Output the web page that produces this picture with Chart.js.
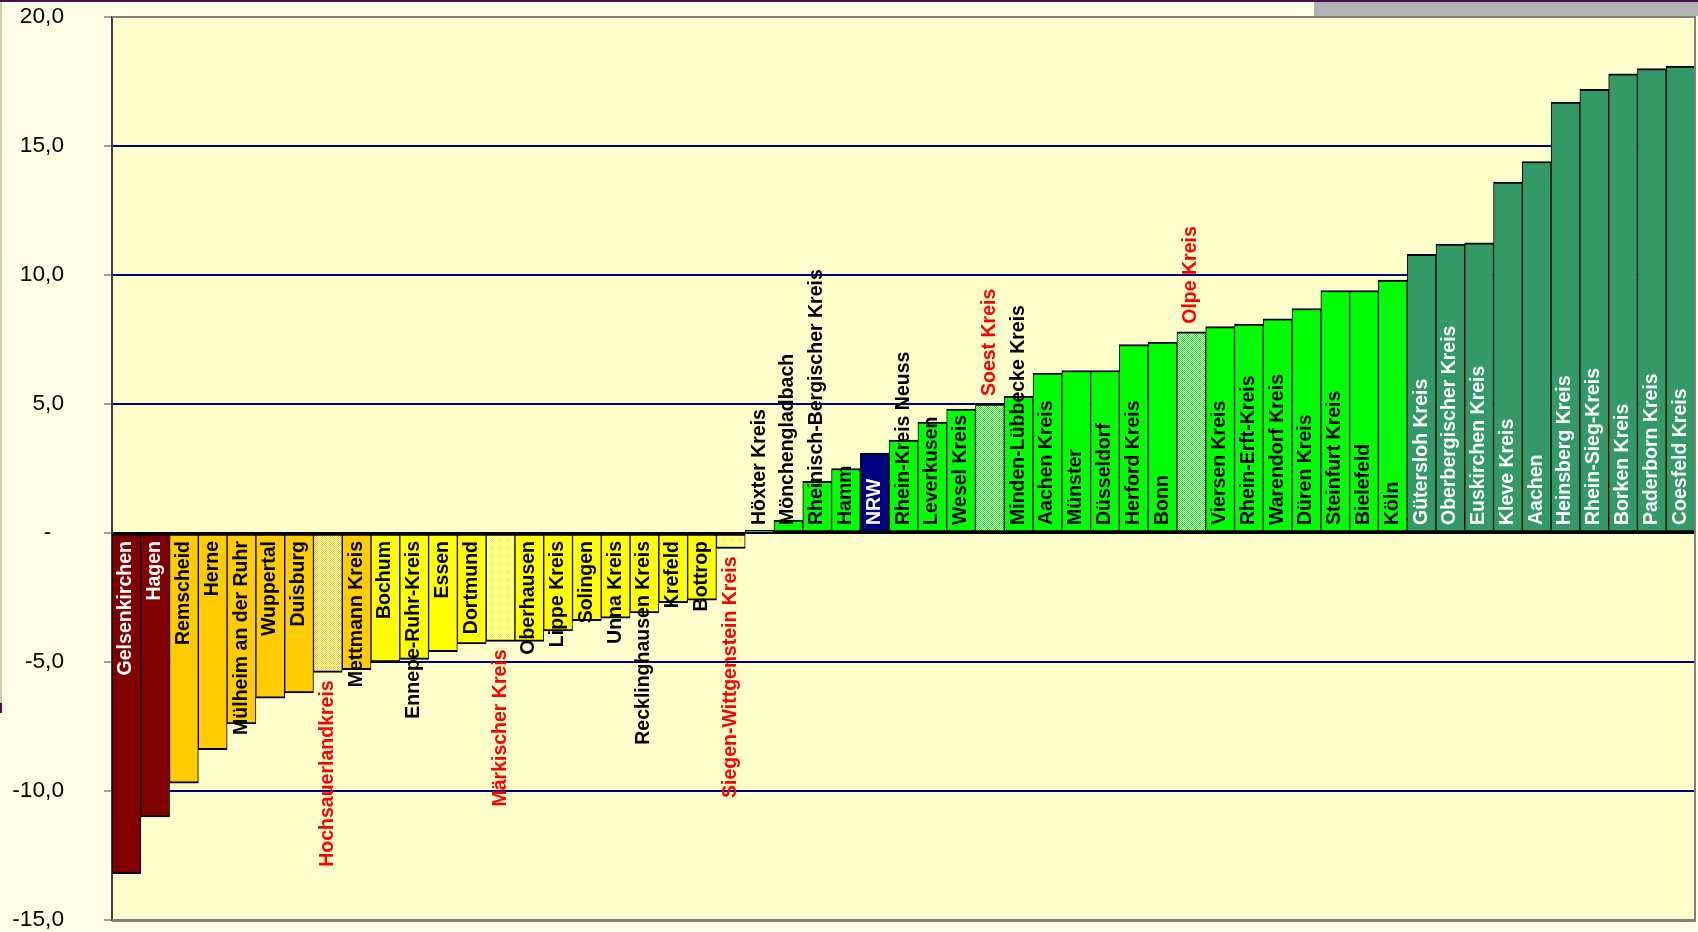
<!DOCTYPE html>
<html lang="de">
<head>
<meta charset="utf-8">
<title>Veränderung nach Kreisen und kreisfreien Städten – NRW</title>
<script src="https://cdn.jsdelivr.net/npm/chart.js@4.4.1/dist/chart.umd.min.js"></script>
<style>
  html, body { margin: 0; padding: 0; background: #FFFFE6; overflow: hidden; }
  #wrap { position: relative; width: 1698px; height: 932px; }
  #chart { position: absolute; left: 0; top: 0; }
  .frame-top  { position: absolute; left: 0; top: 0; width: 1698px; height: 2px; background: #4A0E4E; }
  .frame-tab  { position: absolute; left: 1314px; top: 2px; width: 384px; height: 14px; background: #B2B2B2; }
  .frame-left { position: absolute; left: 0; top: 2px; width: 2px; height: 701px; background: #D2CFA6; }
  .frame-mark { position: absolute; left: 0; top: 703px; width: 2px; height: 10px; background: #4A0E4E; }
</style>
</head>
<body>
<div id="wrap">
  <canvas id="chart" width="1698" height="932"></canvas>
  <div class="frame-top"></div>
  <div class="frame-tab"></div>
  <div class="frame-left"></div>
  <div class="frame-mark"></div>
</div>
<script>
// Kreise und kreisfreie Städte, sortiert nach Veränderung (%)
const districts = [
  'Gelsenkirchen', 'Hagen', 'Remscheid', 'Herne', 'Mülheim an der Ruhr', 'Wuppertal', 'Duisburg',
  'Hochsauerlandkreis', 'Mettmann Kreis', 'Bochum', 'Ennepe-Ruhr-Kreis', 'Essen', 'Dortmund',
  'Märkischer Kreis', 'Oberhausen', 'Lippe Kreis', 'Solingen', 'Unna Kreis', 'Recklinghausen Kreis',
  'Krefeld', 'Bottrop', 'Siegen-Wittgenstein Kreis', 'Höxter Kreis', 'Mönchengladbach',
  'Rheinisch-Bergischer Kreis', 'Hamm', 'NRW', 'Rhein-Kreis Neuss', 'Leverkusen', 'Wesel Kreis',
  'Soest Kreis', 'Minden-Lübbecke Kreis', 'Aachen Kreis', 'Münster', 'Düsseldorf', 'Herford Kreis',
  'Bonn', 'Olpe Kreis', 'Viersen Kreis', 'Rhein-Erft-Kreis', 'Warendorf Kreis', 'Düren Kreis',
  'Steinfurt Kreis', 'Bielefeld', 'Köln', 'Gütersloh Kreis', 'Oberbergischer Kreis',
  'Euskirchen Kreis', 'Kleve Kreis', 'Aachen', 'Heinsberg Kreis', 'Rhein-Sieg-Kreis',
  'Borken Kreis', 'Paderborn Kreis', 'Coesfeld Kreis'
];

const change = [
  -13.2, -11.0, -9.7, -8.4, -7.4, -6.4, -6.2,
  -5.4, -5.3, -5.0, -4.9, -4.6, -4.3,
  -4.2, -4.2, -3.8, -3.4, -3.3, -3.1,
  -2.7, -2.6, -0.6, 0.1, 0.5,
  2.0, 2.5, 3.1, 3.6, 4.3, 4.8,
  5.0, 5.3, 6.2, 6.3, 6.3, 7.3,
  7.4, 7.8, 8.0, 8.1, 8.3, 8.7,
  9.4, 9.4, 9.8, 10.8, 11.2,
  11.25, 13.6, 14.4, 16.7, 17.2,
  17.8, 18.0, 18.1
];

// Landeswert und hervorgehobene Region (Südwestfalen)
const stateTotal = 'NRW';
const suedwestfalen = ['Hochsauerlandkreis', 'Märkischer Kreis', 'Siegen-Wittgenstein Kreis', 'Soest Kreis', 'Olpe Kreis'];

// Wertebereich und Schrittweite der Größenachse
const yRange = [-15, 20];
const yStep = 5;

const FONT = '"Liberation Sans", Arial, Helvetica, sans-serif';

function bandColor(v) {
  if (v < -10) return '#800000';
  if (v < -5) return '#FFCC00';
  if (v < 0) return '#FFFF00';
  if (v < 10) return '#00FF00';
  return '#339966';
}

const canvas = document.getElementById('chart');
const mainCtx = canvas.getContext('2d');

// 2x2-Raster: Farbe und Weiß im Schachbrettmuster
function dither(color) {
  const c = document.createElement('canvas');
  c.width = 2; c.height = 2;
  const g = c.getContext('2d');
  g.fillStyle = '#FFFFFF';
  g.fillRect(0, 0, 2, 2);
  g.fillStyle = color;
  g.fillRect(0, 0, 1, 1);
  g.fillRect(1, 1, 1, 1);
  return mainCtx.createPattern(c, 'repeat');
}

function fillFor(name, v) {
  if (name === stateTotal) return '#000080';
  if (suedwestfalen.includes(name)) return dither(bandColor(v));
  return bandColor(v);
}

function labelColor(name, v) {
  if (suedwestfalen.includes(name)) return '#FF0000';
  if (name === stateTotal || v < -10 || v >= 10) return '#FFFFFF';
  return '#000000';
}

function gridColor(value) {
  if (value === 0) return '#000000';
  if (value === yRange[0] || value === yRange[1]) return 'rgba(0,0,0,0)';
  return '#000080';
}

const plotBackground = {
  id: 'plotBackground',
  beforeDraw(chart) {
    const { ctx, chartArea: a } = chart;
    ctx.save();
    ctx.fillStyle = '#FFFFCC';
    ctx.fillRect(a.left, a.top, a.right - a.left, a.bottom - a.top);
    ctx.restore();
  }
};

const plotFrame = {
  id: 'plotFrame',
  afterDatasetsDraw(chart) {
    const { ctx, chartArea: a } = chart;
    ctx.save();
    ctx.strokeStyle = '#808080';
    ctx.lineWidth = 2;
    ctx.beginPath();
    ctx.moveTo(a.left, a.top);
    ctx.lineTo(a.right, a.top);
    ctx.lineTo(a.right, a.bottom);
    ctx.stroke();
    ctx.lineWidth = 3;
    ctx.beginPath();
    ctx.moveTo(a.left, a.bottom + 0.5);
    ctx.lineTo(a.right + 1, a.bottom + 0.5);
    ctx.stroke();
    ctx.restore();
  }
};

// Namen senkrecht an die Säulen schreiben
const districtLabels = {
  id: 'districtLabels',
  afterDatasetsDraw(chart) {
    const ctx = chart.ctx;
    const meta = chart.getDatasetMeta(0);
    const zeroY = chart.scales.y.getPixelForValue(0);
    ctx.save();
    ctx.font = 'bold 19.5px ' + FONT;
    ctx.textBaseline = 'alphabetic';
    meta.data.forEach((bar, i) => {
      const name = districts[i];
      const v = change[i];
      const outside = suedwestfalen.includes(name);
      let anchorY;
      if (outside) anchorY = v >= 0 ? bar.y - 8 : bar.y + 8;
      else anchorY = v >= 0 ? zeroY - 8 : zeroY + 8;
      ctx.save();
      ctx.translate(bar.x + 5, anchorY);
      ctx.rotate(-Math.PI / 2);
      ctx.textAlign = v >= 0 ? 'left' : 'right';
      ctx.fillStyle = labelColor(name, v);
      ctx.fillText(name, 0, 0);
      ctx.restore();
    });
    ctx.restore();
  }
};

new Chart(canvas, {
  type: 'bar',
  data: {
    labels: districts,
    datasets: [{
      data: change,
      backgroundColor: change.map((v, i) => fillFor(districts[i], v)),
      borderColor: '#000000',
      borderWidth: { top: 2, bottom: 2, left: 1, right: 1 },
      borderSkipped: false,
      categoryPercentage: 1,
      barPercentage: 1
    }]
  },
  options: {
    responsive: false,
    devicePixelRatio: 1,
    animation: false,
    layout: { padding: { top: 17, bottom: 12, left: 0, right: 3 } },
    plugins: {
      legend: { display: false },
      tooltip: { enabled: false }
    },
    scales: {
      x: { display: false },
      y: {
        min: yRange[0],
        max: yRange[1],
        ticks: {
          stepSize: yStep,
          color: '#000000',
          padding: 40,
          font: { family: FONT, size: 22.7, lineHeight: 1 },
          callback: (v) => v === 0 ? '-  ' : Number(v).toFixed(1).replace('.', ',')
        },
        grid: {
          color: (c) => gridColor(c.tick ? c.tick.value : null),
          lineWidth: 2,
          tickLength: 8,
          tickColor: '#404040',
          tickWidth: 1
        },
        border: { display: true, color: '#404040', width: 2 },
        afterFit(scale) {
          scale.width = 112;
          scale.paddingTop = 0;
          scale.paddingBottom = 0;
        }
      }
    }
  },
  plugins: [plotBackground, plotFrame, districtLabels]
});
</script>
</body>
</html>
